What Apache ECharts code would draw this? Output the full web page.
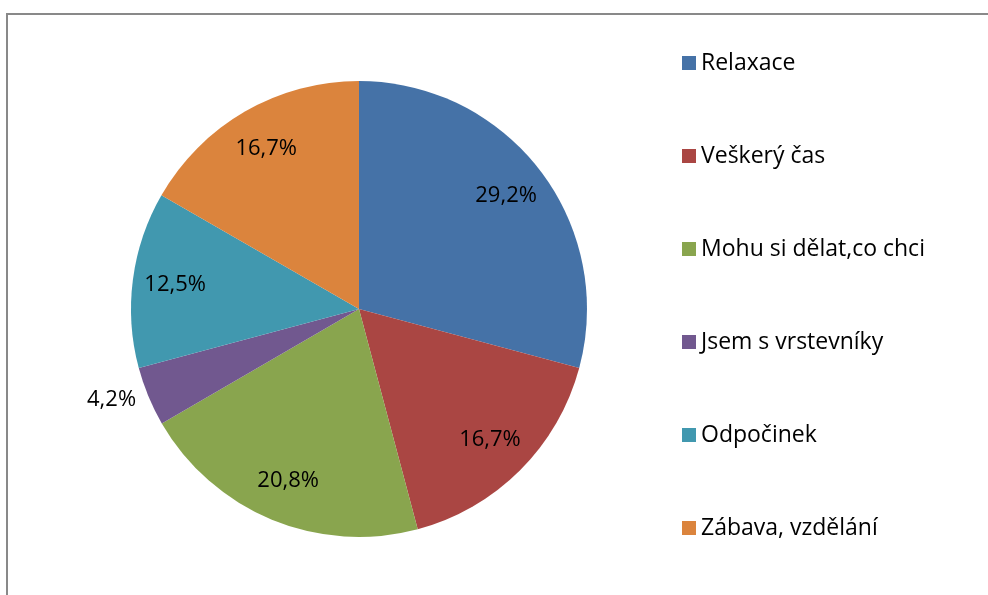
<!DOCTYPE html>
<html>
<head>
<meta charset="utf-8">
<script src="https://cdn.jsdelivr.net/npm/echarts@6/dist/echarts.min.js"></script>
<style>
  html, body { margin: 0; padding: 0; background: #fff; }
  #chart { width: 988px; height: 595px; position: relative; }
  .frame {
    position: absolute; left: 6px; top: 13px; width: 990px; height: 600px;
    border-left: 2px solid #898989; border-top: 2px solid #898989;
    pointer-events: none;
  }
</style>
</head>
<body>
<div id="chart"></div>
<div class="frame"></div>
<script>
// kategorie a podíly (%)
const categories = ['Relaxace', 'Veškerý čas', 'Mohu si dělat,co chci', 'Jsem s vrstevníky', 'Odpočinek', 'Zábava, vzdělání']
const shares = [29.2, 16.7, 20.8, 4.2, 12.5, 16.7]
const colors = ['#4572A7', '#AA4643', '#89A54E', '#71588F', '#4198AF', '#DB843D']

const font = '"Open Sans", "Noto Sans", sans-serif'
const center = [359, 309]
const R = 228

const chart = echarts.init(document.getElementById('chart'), null, { renderer: 'canvas' })

const pieData = categories.map((name, i) => ({ name: name, value: shares[i] }))

// popisky – malé výseče venku
const labelData = categories.map((name, i) => {
  const item = { name: name, value: shares[i] }
  if (shares[i] < 5) {
    item.label = { position: 'outside' }
    item.labelLine = { show: false, length: 8, length2: 0 }
  }
  return item
})

const options = {
  animation: false,
  color: colors,
  legend: {
    orient: 'vertical',
    left: 677,
    top: 46,
    itemWidth: 14,
    itemHeight: 14,
    itemGap: 69,
    icon: 'rect',
    textStyle: { fontFamily: font, fontSize: 23, color: '#000', lineHeight: 24 },
    data: categories
  },
  series: [
    {
      name: 'main',
      type: 'pie',
      center: center,
      radius: [0, R],
      startAngle: 90,
      clockwise: true,
      silent: true,
      label: { show: false },
      labelLine: { show: false },
      data: pieData
    },
    {
      name: 'labels',
      type: 'pie',
      center: center,
      radius: [R * 0.6, R],
      startAngle: 90,
      clockwise: true,
      silent: true,
      avoidLabelOverlap: false,
      itemStyle: { color: 'transparent' },
      label: {
        show: true,
        position: 'inside',
        fontFamily: font,
        fontSize: 22,
        color: '#000',
        formatter: p => p.value.toFixed(1).replace('.', ',') + '%'
      },
      labelLine: { show: false },
      data: labelData
    }
  ]
}

chart.setOption(options)
</script>
</body>
</html>
